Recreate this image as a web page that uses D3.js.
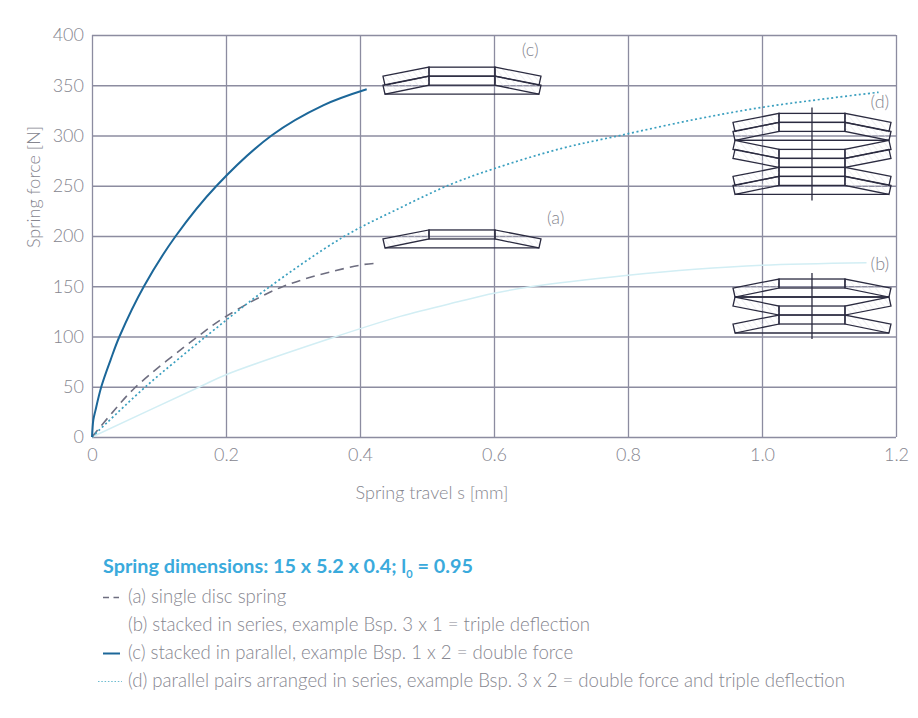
<!DOCTYPE html>
<html>
<head>
<meta charset="utf-8">
<script src="https://cdn.jsdelivr.net/npm/d3@7"></script>
<style>
  body{margin:0;background:#fff}
  text{font-family:Lato,"Open Sans",sans-serif}
</style>
</head>
<body>
<svg id="chart" width="918" height="718"></svg>
<script>
// axis ticks
const xTicks = [0, 0.2, 0.4, 0.6, 0.8, 1.0, 1.2]
const xTickLabels = ['0', '0.2', '0.4', '0.6', '0.8', '1.0', '1.2']
const yTicks = [0, 50, 100, 150, 200, 250, 300, 350, 400]

// (a) single disc spring
const singleTravel = [0, 0.03, 0.064, 0.16, 0.2, 0.286, 0.4, 0.427]
const singleForce  = [0, 24, 49, 101, 120, 150, 171, 173]
// (b) stacked in series
const seriesTravel = [0, 0.161, 0.2, 0.36, 0.46, 0.549, 0.6, 0.659, 0.8, 0.9, 1.0, 1.156]
const seriesForce  = [0, 50, 62, 99, 120, 135, 143, 150, 161, 167, 171, 173.5]
// (c) stacked in parallel
const parallelTravel = [0, 0.002, 0.005, 0.0139, 0.0279, 0.041, 0.0776, 0.125, 0.186, 0.268, 0.345, 0.41]
const parallelForce  = [0, 17, 26, 50, 77, 100, 150, 200, 250, 300, 330, 346]
// (d) parallel pairs in series
const comboTravel = [0, 0.022, 0.08, 0.17, 0.256, 0.375, 0.46, 0.534, 0.6, 0.7, 0.788, 0.9, 1.0, 1.1, 1.174]
const comboForce  = [0, 14, 50, 100, 145, 199, 228, 251, 267, 287, 300, 316, 328, 337, 343]

const curveLabels = ['(a)', '(b)', '(c)', '(d)']
const legendTitle = ['Spring dimensions: 15 x 5.2 x 0.4; l', '0', ' = 0.95']
const legendItems = [
  '(a) single disc spring',
  '(b) stacked in series, example Bsp. 3 x 1 = triple deflection',
  '(c) stacked in parallel, example Bsp. 1 x 2 = double force',
  '(d) parallel pairs arranged in series, example Bsp. 3 x 2 = double force and triple deflection'
]

const svg = d3.select('#chart')
const margin = {top:35, right:22, bottom:281, left:92}
const width = 918 - margin.left - margin.right
const height = 718 - margin.top - margin.bottom

const x = d3.scaleLinear().domain([0, 1.2]).range([margin.left, margin.left + width])
const y = d3.scaleLinear().domain([0, 400]).range([margin.top + height, margin.top])

const gridColor = '#8c8ca0'
const textColor = '#86868f'

// hatching for the disc arms
const defs = svg.append('defs')
defs.append('pattern')
    .attr('id', 'hatch')
    .attr('width', 5).attr('height', 5)
    .attr('patternUnits', 'userSpaceOnUse')
    .attr('patternTransform', 'rotate(-40)')
  .append('line')
    .attr('x1', 0).attr('y1', 0).attr('x2', 0).attr('y2', 5)
    .attr('stroke', '#e2e2e8').attr('stroke-width', 1)

// grid + axes
const xAxis = svg.append('g')
  .attr('transform', `translate(0,${margin.top + height})`)
  .call(d3.axisBottom(x).tickValues(xTicks).tickSize(-height).tickPadding(11)
          .tickFormat((d, i) => xTickLabels[i]))
const yAxis = svg.append('g')
  .attr('transform', `translate(${margin.left},0)`)
  .call(d3.axisLeft(y).tickValues(yTicks).tickSize(-width).tickPadding(8))

;[xAxis, yAxis].forEach(ax => {
  ax.select('.domain').remove()
  ax.selectAll('line').attr('stroke', gridColor).attr('stroke-width', 1.3)
  ax.selectAll('text').attr('fill', textColor).attr('font-size', 18).attr('font-weight', 300)
    .style('font-family', 'Lato, "Open Sans", sans-serif')
})

svg.append('text')
  .attr('x', 432).attr('y', 499)
  .attr('text-anchor', 'middle')
  .attr('fill', textColor).attr('font-size', 18).attr('font-weight', 300)
  .text('Spring travel s [mm]')

svg.append('text')
  .attr('transform', `translate(40,${y(0) - 250}) rotate(-90)`)
  .attr('text-anchor', 'middle')
  .attr('fill', textColor).attr('font-size', 18).attr('font-weight', 300)
  .text('Spring force [N]')

// spring icons
function drawStack(g, leftS, topF, groups, withAxis){
  const L = x(leftS), T = y(topF)
  const t = 9, arm = 46, flat = 66, W = arm * 2 + flat, R = L + W
  const mir = p => [R - (p[0] - L), p[1]]
  const ink = '#2b2b40'
  let cur = T
  groups.forEach(grp => {
    for(let i = 0; i < grp.n; i++){
      const y0 = cur + i * t
      let armPts
      if(!grp.inv){
        armPts = [[L, y0 + t], [L + arm, y0], [L + arm, y0 + t], [L + 2, y0 + 2 * t]]
        g.append('rect').attr('x', L + arm).attr('y', y0).attr('width', flat).attr('height', t)
      }else{
        armPts = [[L + 2, y0], [L + arm, y0 + t], [L + arm, y0 + 2 * t], [L, y0 + t]]
        g.append('rect').attr('x', L + arm).attr('y', y0 + t).attr('width', flat).attr('height', t)
      }
      g.append('polygon').attr('points', armPts.join(' ')).attr('fill', 'url(#hatch)')
      g.append('polygon').attr('points', armPts.map(mir).join(' ')).attr('fill', 'url(#hatch)')
    }
    const backY = grp.inv ? cur : cur + (grp.n + 1) * t
    g.append('line').attr('x1', L + 2).attr('x2', R - 2).attr('y1', backY).attr('y2', backY)
    cur += (grp.n + 1) * t
  })
  g.selectAll('rect').attr('fill', 'none')
  g.selectAll('rect,polygon,line').attr('stroke', ink).attr('stroke-width', 1.3)
  if(withAxis){
    g.append('line').attr('x1', L + W / 2).attr('x2', L + W / 2)
      .attr('y1', T - 6).attr('y2', cur + 6)
      .attr('stroke', ink).attr('stroke-width', 1.3)
  }
}

const icons = svg.append('g')
drawStack(icons.append('g'), 0.4343, 368, [{inv:false, n:2}], false)
drawStack(icons.append('g'), 0.4343, 206, [{inv:false, n:1}], false)
drawStack(icons.append('g'), 0.9567, 322, [{inv:false, n:2}, {inv:true, n:2}, {inv:false, n:2}], true)
drawStack(icons.append('g'), 0.9567, 157.2, [{inv:false, n:1}, {inv:true, n:1}, {inv:false, n:1}], true)

// curves
const line = d3.line().x(d => x(d[0])).y(d => y(d[1])).curve(d3.curveCatmullRom.alpha(0.5))
const zip = (a, b) => a.map((v, i) => [v, b[i]])

const series = [
  {pts: zip(seriesTravel, seriesForce), color:'#d2eef4', w:1.5, dash:null},
  {pts: zip(singleTravel, singleForce), color:'#6e6e80', w:1.6, dash:'9,6'},
  {pts: zip(comboTravel, comboForce), color:'#3a9fbf', w:1.7, dash:'2,2.6'},
  {pts: zip(parallelTravel, parallelForce), color:'#1c6799', w:2, dash:null}
]
series.forEach(s => {
  svg.append('path')
    .datum(s.pts)
    .attr('d', line)
    .attr('fill', 'none')
    .attr('stroke', s.color)
    .attr('stroke-width', s.w)
    .attr('stroke-dasharray', s.dash)
})

// curve labels
const labelAt = [[0.692, 218], [1.176, 172], [0.654, 385], [1.176, 334]]
curveLabels.forEach((txt, i) => {
  svg.append('text')
    .attr('x', x(labelAt[i][0])).attr('y', y(labelAt[i][1]))
    .attr('dy', '0.35em')
    .attr('text-anchor', 'middle')
    .attr('fill', textColor).attr('font-size', 18).attr('font-weight', 300)
    .text(txt)
})

// legend
const title = svg.append('text')
  .attr('x', 103).attr('y', 573)
  .attr('fill', '#3aaadc').attr('font-size', 19.8).attr('font-weight', 700)
title.append('tspan').text(legendTitle[0])
title.append('tspan').attr('font-size', 11).attr('dy', 5).text(legendTitle[1])
title.append('tspan').attr('dy', -5).text(legendTitle[2])

const legendSym = [
  {color:'#6e6e80', w:1.4, dash:'6,4.5', x1:103, x2:119},
  null,
  {color:'#1c6799', w:2, dash:null, x1:103, x2:120},
  {color:'#6cbcd0', w:1.2, dash:'1.5,1.8', x1:98, x2:122}
]
legendItems.forEach((txt, i) => {
  const yy = 603 + i * 28
  const sym = legendSym[i]
  if(sym){
    svg.append('line')
      .attr('x1', sym.x1).attr('x2', sym.x2)
      .attr('y1', yy - 5.5).attr('y2', yy - 5.5)
      .attr('stroke', sym.color).attr('stroke-width', sym.w)
      .attr('stroke-dasharray', sym.dash)
  }
  svg.append('text')
    .attr('x', 128).attr('y', yy)
    .attr('fill', textColor).attr('font-size', 18.6).attr('font-weight', 300)
    .text(txt)
})
</script>
</body>
</html>
